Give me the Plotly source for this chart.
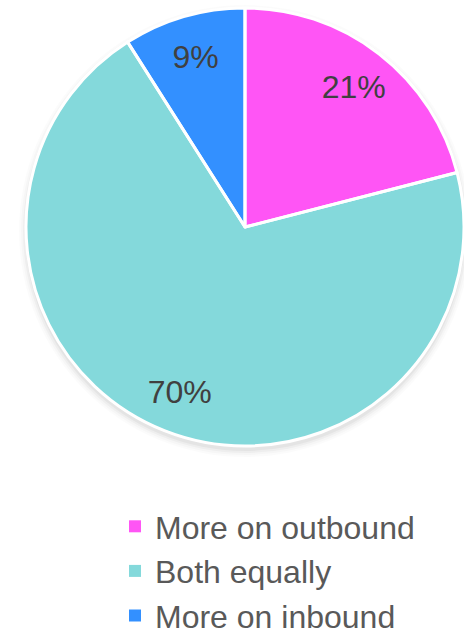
import plotly.graph_objects as go

# Survey breakdown: where effort is focused
categories = ["More on outbound", "Both equally", "More on inbound"]
shares = [21, 70, 9]
colors = ["#FF55F5", "#84D9DB", "#3390FF"]

# The legend runs slightly past the lower edge of the 630px view
W, H = 464, 643
FONT = "Arial, 'Liberation Sans', sans-serif"

# Pie placement (pixel geometry converted to paper fractions)
left_px, cy_px, r_px = 26, 227, 219
dom_x = [left_px / W, 1.0]
dom_y = [1 - (cy_px + r_px) / H, 1 - (cy_px - r_px) / H]

common = dict(
    labels=categories,
    values=shares,
    sort=False,
    direction="clockwise",
    rotation=0,
    domain=dict(x=dom_x, y=dom_y),
)

# Filled disc with the legend entries
disc = go.Pie(
    **common,
    marker=dict(colors=colors, line=dict(width=0)),
    textinfo="none",
    hoverinfo="label+percent",
    showlegend=True,
)

# White slice separators and rim
edges = go.Pie(
    **common,
    marker=dict(colors=["rgba(0,0,0,0)"] * 3, line=dict(color="white", width=3)),
    textinfo="none",
    hoverinfo="skip",
    showlegend=False,
)

# Transparent ring that carries the percentage labels toward the rim
ring = go.Pie(
    **common,
    hole=0.62,
    marker=dict(colors=["rgba(0,0,0,0)"] * 3, line=dict(width=0)),
    texttemplate="%{percent:.0%}",
    textposition="inside",
    insidetextorientation="horizontal",
    textfont=dict(family=FONT, size=32, color="#404040"),
    hoverinfo="skip",
    showlegend=False,
)

fig = go.Figure([disc, edges, ring])

# Soft drop shadow under the disc
cx_px = (dom_x[0] + dom_x[1]) / 2 * W
shapes = []
for grow, alpha in [(7, 0.015), (5, 0.02), (3, 0.03), (1, 0.04)]:
    r = r_px + grow
    shapes.append(
        dict(
            type="circle",
            xref="paper",
            yref="paper",
            x0=(cx_px - r) / W,
            x1=(cx_px + r) / W,
            y0=1 - (cy_px + 4 + r) / H,
            y1=1 - (cy_px + 4 - r) / H,
            line=dict(width=0),
            fillcolor=f"rgba(0,0,0,{alpha})",
            layer="below",
        )
    )

fig.update_layout(
    width=W,
    height=H,
    margin=dict(l=0, r=0, t=0, b=0),
    paper_bgcolor="white",
    plot_bgcolor="white",
    shapes=shapes,
    showlegend=True,
    legend=dict(
        orientation="v",
        x=115 / W,
        xanchor="left",
        y=0,
        yanchor="bottom",
        font=dict(family=FONT, size=32, color="#595959"),
        bgcolor="rgba(0,0,0,0)",
    ),
)

fig.write_html(
    "out.html",
    post_script=(
        "document.documentElement.style.overflow='hidden';"
        "document.body.style.overflow='hidden';"
    ),
)
